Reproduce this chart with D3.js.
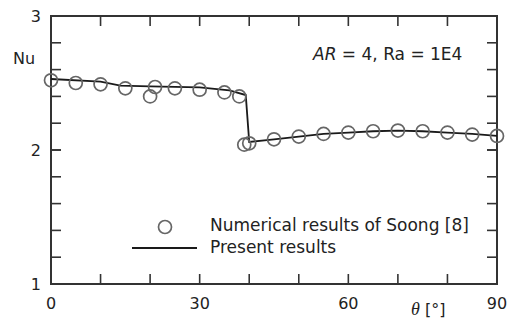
<!DOCTYPE html>
<html>
<head>
<meta charset="utf-8">
<script src="https://d3js.org/d3.v7.min.js"></script>
<style>
  body { margin: 0; background: #fff; }
  text { font-family: "DejaVu Sans", sans-serif; fill: #222; }
</style>
</head>
<body>
<div id="container"></div>
<script>

// Soong [8] numerical results (circles)
var soongTheta = [0, 5, 10, 15, 20, 21, 25, 30, 35, 38, 39, 40, 45, 50, 55, 60, 65, 70, 75, 80, 85, 90];
var soongNu    = [2.52, 2.50, 2.49, 2.46, 2.40, 2.47, 2.46, 2.45, 2.43, 2.40, 2.04, 2.05, 2.08, 2.10, 2.12, 2.13, 2.14, 2.145, 2.14, 2.13, 2.115, 2.105];

// present results (solid line)
var presentTheta = [0, 10, 14, 20, 30, 36, 39.3, 40, 45, 50, 55, 60, 65, 70, 75, 80, 85, 90];
var presentNu    = [2.53, 2.51, 2.48, 2.475, 2.468, 2.445, 2.41, 2.06, 2.08, 2.10, 2.12, 2.13, 2.14, 2.145, 2.14, 2.13, 2.12, 2.105];

var xTicks = [0, 30, 60, 90];
var yTicks = [1, 2, 3];

var margin = {top: 16, left: 51},
    width = 446,
    height = 268;

var svg = d3.select("#container").append("svg")
    .attr("width", 507)
    .attr("height", 320);

var x = d3.scaleLinear().domain([0, 90]).range([0, width]);
var y = d3.scaleLinear().domain([1, 3]).range([height, 0]);

var g = svg.append("g")
    .attr("transform", "translate(" + margin.left + "," + margin.top + ")");

var axisColor = "#333";

// ticks, all pointing inward
var xMinor = d3.range(10, 90, 10);
var yMinor = d3.range(1.2, 2.99, 0.2);

g.selectAll(".xt-bot").data(xMinor).enter().append("line")
    .attr("x1", function(d) { return x(d); }).attr("x2", function(d) { return x(d); })
    .attr("y1", height).attr("y2", height - 10)
    .attr("stroke", axisColor).attr("stroke-width", 1.6);
g.selectAll(".xt-top").data(xMinor).enter().append("line")
    .attr("x1", function(d) { return x(d); }).attr("x2", function(d) { return x(d); })
    .attr("y1", 0).attr("y2", 10)
    .attr("stroke", axisColor).attr("stroke-width", 1.6);
g.selectAll(".yt-left").data(yMinor.concat([2])).enter().append("line")
    .attr("x1", 0).attr("x2", 10)
    .attr("y1", function(d) { return y(d); }).attr("y2", function(d) { return y(d); })
    .attr("stroke", axisColor).attr("stroke-width", 1.6);
g.selectAll(".yt-right").data(yMinor.concat([2])).enter().append("line")
    .attr("x1", width).attr("x2", width - 10)
    .attr("y1", function(d) { return y(d); }).attr("y2", function(d) { return y(d); })
    .attr("stroke", axisColor).attr("stroke-width", 1.6);

// frame
g.append("rect")
    .attr("x", 0).attr("y", 0)
    .attr("width", width).attr("height", height)
    .attr("fill", "none")
    .attr("stroke", axisColor)
    .attr("stroke-width", 2);

// tick labels
g.selectAll(".xl").data(xTicks).enter().append("text")
    .attr("x", function(d) { return x(d); })
    .attr("y", height + 25)
    .attr("text-anchor", "middle")
    .style("font-size", "16px")
    .text(function(d) { return d; });

g.selectAll(".yl").data(yTicks).enter().append("text")
    .attr("x", -10)
    .attr("y", function(d) { return y(d) + 6; })
    .attr("text-anchor", "end")
    .style("font-size", "16px")
    .text(function(d) { return d; });

// axis titles
svg.append("text")
    .attr("x", 13).attr("y", 64)
    .style("font-size", "16px")
    .text("Nu");

var xt = svg.append("text")
    .attr("x", 411).attr("y", 315)
    .style("font-size", "16px");
xt.append("tspan")
    .style("font-family", "'Liberation Serif', serif")
    .style("font-style", "italic")
    .style("font-size", "18px")
    .text("θ");
xt.append("tspan").text(" [°]");

// annotation
var ann = svg.append("text")
    .attr("x", 313).attr("y", 60)
    .style("font-size", "17px");
ann.append("tspan").style("font-style", "italic").text("AR");
ann.append("tspan").text(" = 4, Ra = 1E4");

// present results line
var line = d3.line()
    .x(function(d) { return x(d[0]); })
    .y(function(d) { return y(d[1]); });

g.append("path")
    .datum(d3.zip(presentTheta, presentNu))
    .attr("d", line)
    .attr("fill", "none")
    .attr("stroke", "#1a1a1a")
    .attr("stroke-width", 1.8);

// Soong circles
g.selectAll(".pt").data(d3.zip(soongTheta, soongNu)).enter().append("circle")
    .attr("cx", function(d) { return x(d[0]); })
    .attr("cy", function(d) { return y(d[1]); })
    .attr("r", 6.5)
    .attr("fill", "none")
    .attr("stroke", "#666")
    .attr("stroke-width", 1.7);

// legend
svg.append("circle")
    .attr("cx", 165).attr("cy", 227).attr("r", 6.5)
    .attr("fill", "none").attr("stroke", "#666").attr("stroke-width", 1.7);
svg.append("line")
    .attr("x1", 132).attr("x2", 197).attr("y1", 248).attr("y2", 248)
    .attr("stroke", "#1a1a1a").attr("stroke-width", 1.8);
svg.append("text")
    .attr("x", 210).attr("y", 231)
    .style("font-size", "17px")
    .text("Numerical results of Soong [8]");
svg.append("text")
    .attr("x", 210).attr("y", 253)
    .style("font-size", "17px")
    .text("Present results");

</script>
</body>
</html>
